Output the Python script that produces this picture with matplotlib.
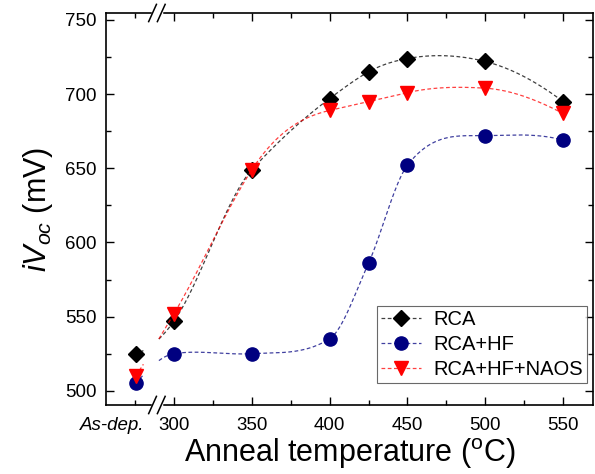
import matplotlib.pyplot as plt
import numpy as np
from matplotlib.colors import to_rgba
from matplotlib.ticker import MultipleLocator

plt.rcParams['font.family'] = ['Liberation Sans', 'DejaVu Sans']
plt.rcParams['mathtext.fontset'] = 'custom'
plt.rcParams['mathtext.rm'] = 'Liberation Sans'
plt.rcParams['mathtext.it'] = 'Liberation Sans:italic'

# ---------------- data ----------------
# first point is the as-deposited sample, drawn left of the axis break
temps = [275.5, 300, 350, 400, 425, 450, 500, 550]
rca = [525, 547, 649, 697, 715, 724, 722, 695]
rca_hf = [505, 525, 525, 535, 586, 652, 672, 669]
rca_hf_naos = [510, 552, 649, 689, 695, 701, 704, 687]


def akima(x, y, xn):
    # Akima spline, only used for the dashed guide line
    x = np.asarray(x, float); y = np.asarray(y, float)
    h = np.diff(x); d = np.diff(y) / h
    n = len(x)
    m = np.zeros(n + 3)
    m[2:n + 1] = d
    m[1] = 2 * m[2] - m[3]; m[0] = 2 * m[1] - m[2]
    m[n + 1] = 2 * m[n] - m[n - 1]; m[n + 2] = 2 * m[n + 1] - m[n]
    t = np.zeros(n)
    for i in range(n):
        w1 = abs(m[i + 3] - m[i + 2]); w2 = abs(m[i + 1] - m[i])
        if w1 + w2 == 0:
            t[i] = 0.5 * (m[i + 1] + m[i + 2])
        else:
            t[i] = (w1 * m[i + 1] + w2 * m[i + 2]) / (w1 + w2)
    k = np.clip(np.searchsorted(x, xn) - 1, 0, n - 2)
    s = (xn - x[k]) / h[k]
    h00 = 2 * s**3 - 3 * s**2 + 1; h10 = s**3 - 2 * s**2 + s
    h01 = -2 * s**3 + 3 * s**2; h11 = s**3 - s**2
    return h00 * y[k] + h10 * h[k] * t[k] + h01 * y[k + 1] + h11 * h[k] * t[k + 1]


fig = plt.figure(figsize=(5.95, 4.74), dpi=100)
ax = fig.add_axes([0.1782, 0.1456, 0.8185, 0.827])

series = [
    (rca, 'black', 'D', 8, 'RCA'),
    (rca_hf, '#000080', 'o', 9.5, 'RCA+HF'),
    (rca_hf_naos, 'red', 'v', 10, 'RCA+HF+NAOS'),
]

xs = np.linspace(temps[0], temps[-1], 800)
for vals, col, mk, ms, lab in series:
    lcol = to_rgba(col, 0.75)
    ys = akima(temps, vals, xs)
    ys_plot = np.where((xs > 280.5) & (xs < 290), np.nan, ys)
    ax.plot(xs, ys_plot, ls=(0, (3, 2)), lw=0.9, color=lcol)
    ax.plot(temps, vals, ls='none', marker=mk, ms=ms, color=col)
    ax.plot([], [], ls=(0, (3, 2)), lw=0.9, color=lcol,
            marker=mk, ms=ms, mfc=col, mec=col, label=lab)

ax.set_xlim(256.3, 569.3)
ax.set_ylim(490.4, 754.7)
ax.set_xticks([300, 350, 400, 450, 500, 550])
ax.xaxis.set_minor_locator(MultipleLocator(25))
ax.yaxis.set_major_locator(MultipleLocator(50))
ax.yaxis.set_minor_locator(MultipleLocator(25))
ax.tick_params(which='both', direction='in', top=True, right=True, labelsize=13.5, width=1)
ax.tick_params(which='major', length=6)
ax.tick_params(which='minor', length=3.5)
ax.tick_params(axis='x', pad=9)
ax.tick_params(axis='y', pad=7)
for s in ax.spines.values():
    s.set_linewidth(1.2)

ax.text(281, -0.03, 'As-dep.', transform=ax.get_xaxis_transform(),
        ha='right', va='top', fontsize=13.5, style='italic')

# axis break marks
bx = 289
for yb in (0, 1):
    ax.plot([bx - 2.5, bx + 2.5], [yb, yb], transform=ax.get_xaxis_transform(),
            color='white', lw=2.5, clip_on=False, zorder=3)
    for dx in (-2.8, 2.8):
        ax.plot([bx + dx - 2.5, bx + dx + 2.5], [yb - 0.022, yb + 0.022],
                transform=ax.get_xaxis_transform(), color='black', lw=1.1,
                clip_on=False, zorder=4)

ax.set_xlabel(r'Anneal temperature ($^{\mathrm{o}}$C)', fontsize=22, labelpad=1)
ax.set_ylabel(r'$iV_{oc}$ (mV)', fontsize=22, labelpad=7)

leg = ax.legend(loc='lower right', fontsize=14.5, frameon=True, fancybox=False,
                edgecolor='#444444', handlelength=2.0, borderpad=0.2,
                labelspacing=0.3, borderaxespad=0, handletextpad=0.6,
                bbox_to_anchor=(0.988, 0.056))
leg.get_frame().set_linewidth(0.8)

fig.savefig('out.png', dpi=100)
